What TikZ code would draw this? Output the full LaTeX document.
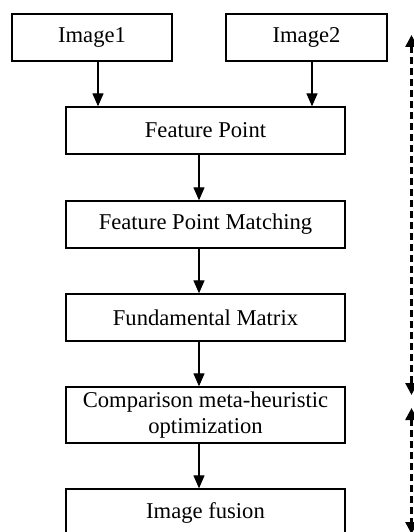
\documentclass[tikz,border=0pt]{standalone}
\usepackage{fontspec}
\setmainfont{Liberation Serif}
\usetikzlibrary{arrows.meta}
\begin{document}
\begin{tikzpicture}[x=1pt,y=-1pt,
  boxnode/.style={draw,line width=1.3pt,inner sep=0pt,align=center,font=\fontsize{22.6}{26}\selectfont},
  flow/.style={line width=1.2pt,-{Triangle[length=13pt,width=11pt]}},
  dashlink/.style={line width=2.6pt,dash pattern=on 7pt off 4pt,{Triangle[length=12pt,width=12pt]}-{Triangle[length=12pt,width=12pt]}}]
\useasboundingbox (0,0) rectangle (414,532);
\clip (0,0) rectangle (414,532);
\node[boxnode,minimum width=160pt,minimum height=47pt] (img1) at (92,37.5) {Image1};
\node[boxnode,minimum width=161pt,minimum height=47pt] (img2) at (306.5,37.5) {Image2};
\node[boxnode,minimum width=279pt,minimum height=47pt] (fp) at (205.5,130.5) {Feature Point};
\node[boxnode,minimum width=279pt,minimum height=47pt] (fpm) at (205.5,224.5) {Feature Point Matching};
\node[boxnode,minimum width=279pt,minimum height=47pt] (fm) at (205.5,317.5) {Fundamental Matrix};
\node[boxnode,minimum width=279pt,minimum height=56pt] (cmp) at (205.5,415) {Comparison meta-heuristic\\optimization};
\node[boxnode,minimum width=279pt,minimum height=56pt] (fus) at (205.5,517) {};
\node[font=\fontsize{22.6}{26}\selectfont] (fustxt) at (205.5,513) {Image fusion};
\draw[flow] ([xshift=6pt]img1.south) -- ([xshift=6pt]img1.south |- fp.north);
\draw[flow] ([xshift=5.5pt]img2.south) -- ([xshift=5.5pt]img2.south |- fp.north);
\draw[flow] ([xshift=-6.5pt]fp.south) -- ([xshift=-6.5pt]fp.south |- fpm.north);
\draw[flow] ([xshift=-6.5pt]fpm.south) -- ([xshift=-6.5pt]fpm.south |- fm.north);
\draw[flow] ([xshift=-6.5pt]fm.south) -- ([xshift=-6.5pt]fm.south |- cmp.north);
\draw[flow] ([xshift=-6.5pt]cmp.south) -- ([xshift=-6.5pt]cmp.south |- fus.north);
\coordinate (d1a) at (411.5,35);
\coordinate (d1b) at (411.5,395);
\coordinate (d2a) at (411.5,408);
\coordinate (d2b) at (411.5,534);
\draw[dashlink] (d1a) -- (d1b);
\draw[dashlink] (d2a) -- (d2b);
\end{tikzpicture}
\end{document}
